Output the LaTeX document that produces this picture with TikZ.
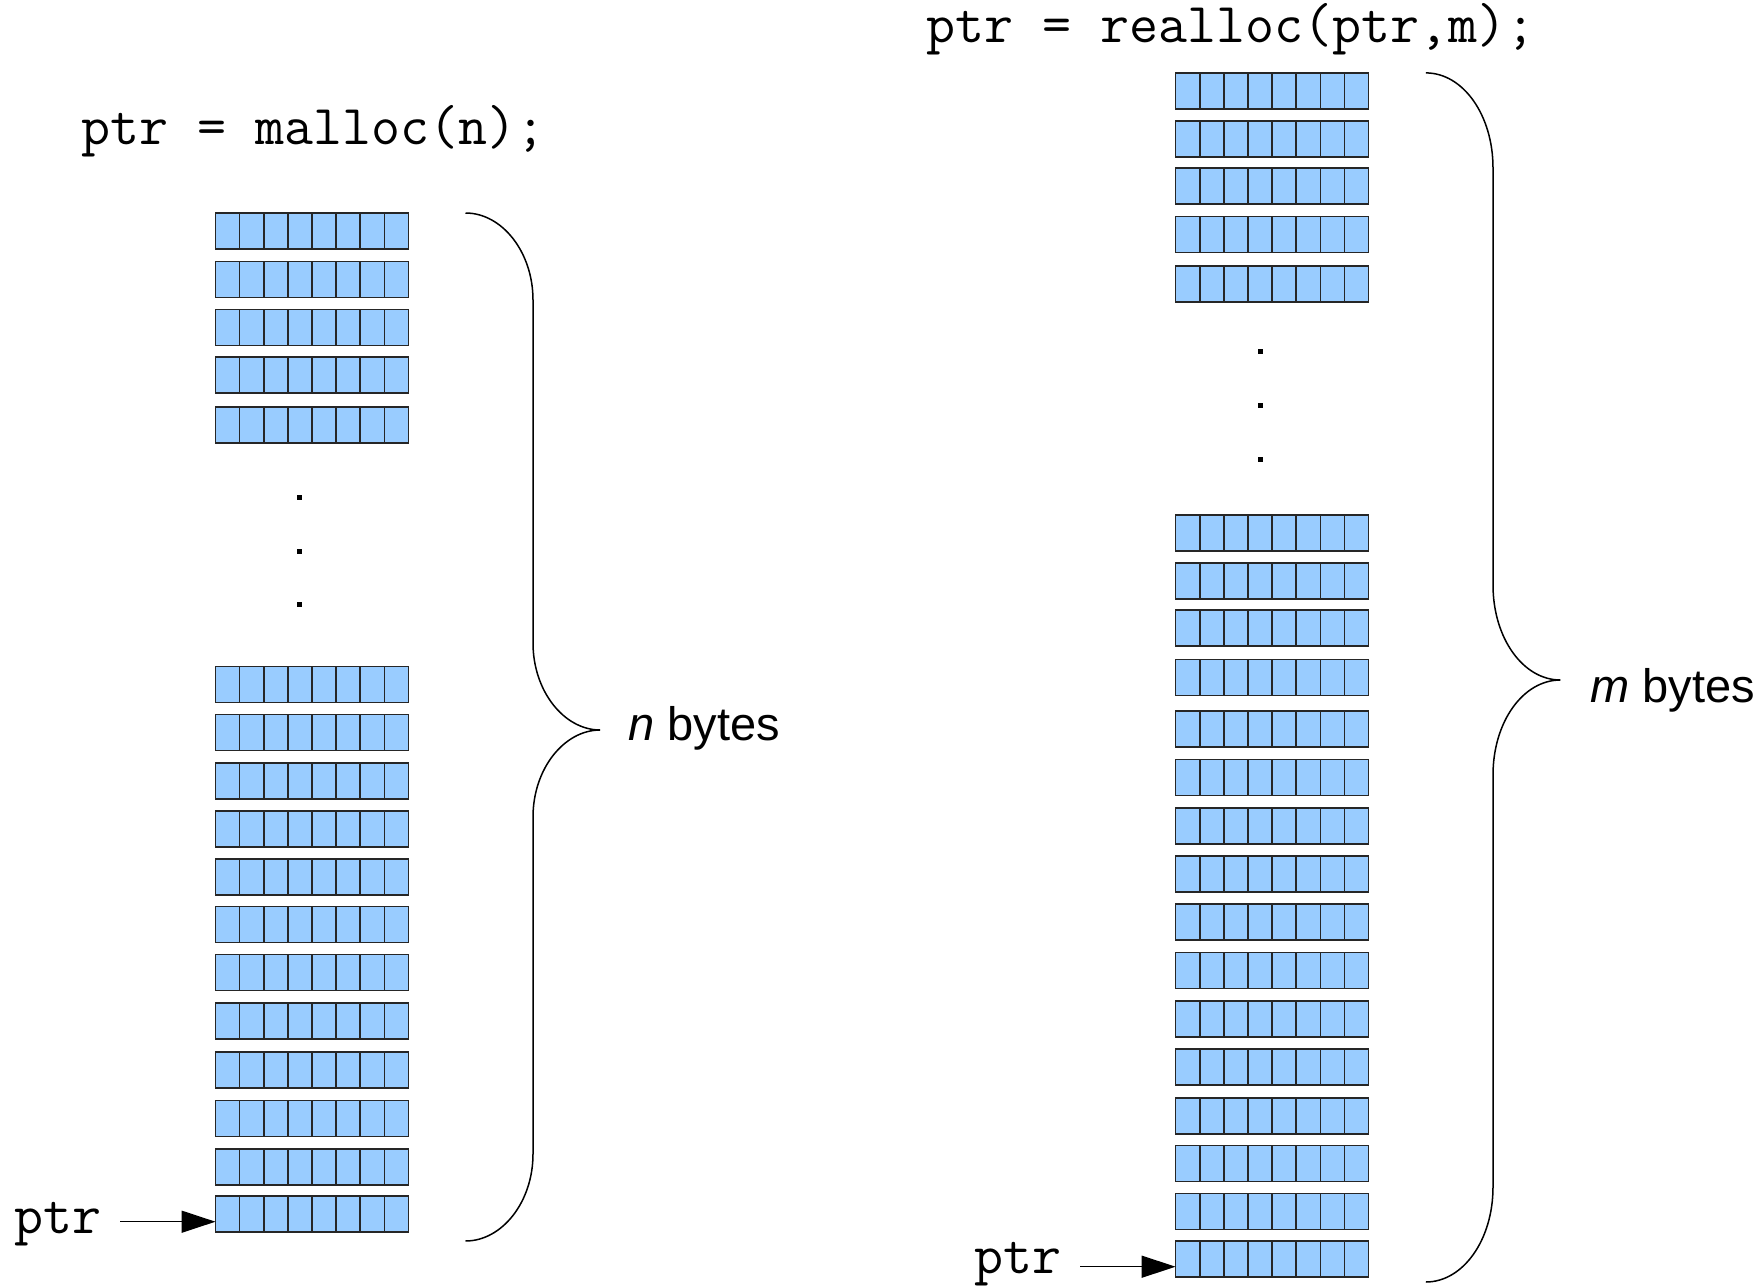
\documentclass[tikz,border=0pt]{standalone}
\usepackage{fontspec}
\setmainfont{Liberation Sans}
\usetikzlibrary{arrows.meta}

\tikzset{
  memrow/.style={draw=black!85, fill=cellblue, line width=1.7pt,
    minimum width=193pt, minimum height=36pt, inner sep=0pt, outer sep=0pt,
    anchor=north west,
    path picture={
      \foreach \k in {1,...,7}
        \draw[black!85, line width=1.7pt]
          ([xshift=\k*193pt/8]path picture bounding box.north west) --
          ([xshift=\k*193pt/8]path picture bounding box.south west);
    }},
  code/.style={font=\ttfamily\fontsize{56.3}{60}\selectfont, anchor=base west, inner sep=0pt},
  sizelabel/.style={font=\fontsize{47}{52}\selectfont, anchor=base west, inner sep=0pt},
  brace/.style={draw=black, line width=1.5pt},
  ptrarrow/.style={draw=black, line width=1.5pt, -{Triangle[length=34pt,width=22pt]}},
  dotmark/.style={fill=black, minimum size=5pt, inner sep=0pt, outer sep=0pt}
}
\definecolor{cellblue}{HTML}{99CCFF}

\begin{document}
\begin{tikzpicture}[x=1pt, y=-1pt]
\useasboundingbox (0,0) rectangle (1759,1287);

% ---------------- malloc ----------------
\node[code] (titleL) at (81,145) {ptr = malloc(n);};

\foreach \t [count=\i] in {213,261.4,309.6,356.7,407.2}
  \node[memrow] (rowLa\i) at (215.5,\t) {};
\foreach \t [count=\i] in {666.4,714.6,762.8,811,859.3,906.4,954.6,1002.9,1052.2,1100.5,1148.7,1195.8}
  \node[memrow] (rowLb\i) at (215.5,\t) {};

\foreach \y [count=\i] in {497.7,551,604}
  \node[dotmark] (dotL\i) at (299,\y) {};

\coordinate (braceLtop) at (465.5,213);
\coordinate (braceLtip) at (600.2,730);
\coordinate (braceLbot) at (465.5,1241);
\draw[brace] (braceLtop) .. controls (502,213) and (533,252) .. (533,300)
  -- (533,643) .. controls (533,691) and (564,730) .. (braceLtip)
  .. controls (564,730) and (533,769) .. (533,817)
  -- (533,1154) .. controls (533,1202) and (502,1241) .. (braceLbot);

\node[sizelabel] (sizeL) at (628,740) {\textit{n} bytes};

\node[code] (ptrL) at (14,1233) {ptr};
\coordinate (arrL) at (120,1221.7);
\draw[ptrarrow] (arrL) -- (arrL -| rowLb12.west);

% ---------------- realloc ----------------
\node[code] (titleR) at (926,43) {ptr = realloc(ptr,m);};

\foreach \t [count=\i] in {72.9,121.2,168.3,216.5,265.9}
  \node[memrow] (rowRa\i) at (1175.6,\t) {};
\foreach \t [count=\i] in {514.9,563.1,610.3,659.6,711.2,759.5,807.7,855.9,904.2,952.4,1000.7,1048.9,1098.3,1145.4,1193.6,1240.7}
  \node[memrow] (rowRb\i) at (1175.6,\t) {};

\foreach \y [count=\i] in {351,405,459}
  \node[dotmark] (dotR\i) at (1260,\y) {};

\coordinate (braceRtop) at (1425.8,72.9);
\coordinate (braceRtip) at (1560.4,680);
\coordinate (braceRbot) at (1425.8,1282);
\draw[brace] (braceRtop) .. controls (1463,72.9) and (1493,115) .. (1493,168)
  -- (1493,585) .. controls (1493,638) and (1523,680) .. (braceRtip)
  .. controls (1523,680) and (1493,722) .. (1493,775)
  -- (1493,1187) .. controls (1493,1240) and (1463,1282) .. (braceRbot);

\node[sizelabel] (sizeR) at (1590,702) {\textit{m} bytes};

\node[code] (ptrR) at (974,1273) {ptr};
\coordinate (arrR) at (1080.3,1266.7);
\draw[ptrarrow] (arrR) -- (arrR -| rowRb16.west);
\end{tikzpicture}
\end{document}
